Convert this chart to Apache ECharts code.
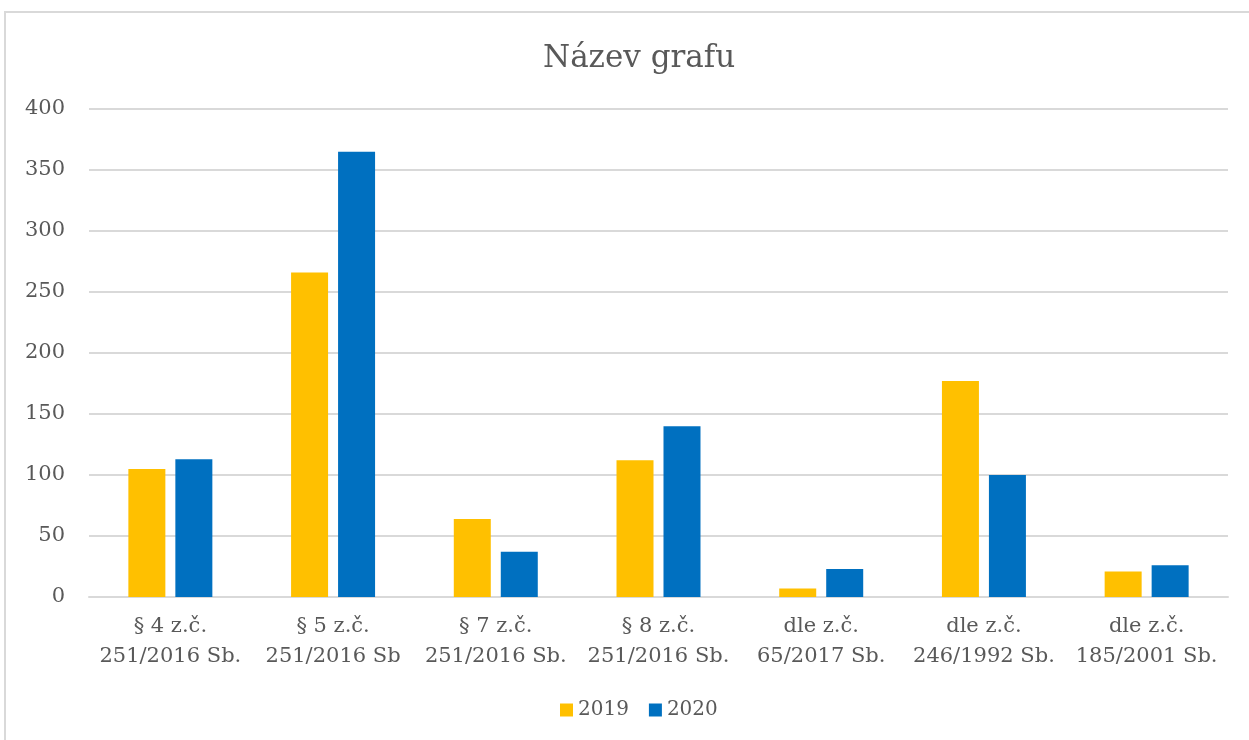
<!DOCTYPE html>
<html>
<head>
<meta charset="utf-8">
<script src="https://cdn.jsdelivr.net/npm/echarts@6/dist/echarts.min.js"></script>
<style>
  html, body { margin: 0; padding: 0; background: #fff; }
  .echarts_box {
    position: absolute;
    left: 4px;
    top: 11px;
    width: 1250px;
    height: 735px;
    border: 2px solid #d9d9d9;
    box-sizing: border-box;
  }
  #grafChart { position: absolute; left: 0; top: 0; width: 1249px; height: 740px; }
</style>
</head>
<body>
<div class="echarts_box"></div>
<div id="grafChart"></div>
<script>
// data
var categories = [
  '§ 4 z.č.\n251/2016 Sb.',
  '§ 5 z.č.\n251/2016 Sb',
  '§ 7 z.č.\n251/2016 Sb.',
  '§ 8 z.č.\n251/2016 Sb.',
  'dle z.č.\n65/2017 Sb.',
  'dle z.č.\n246/1992 Sb.',
  'dle z.č.\n185/2001 Sb.'
]
var seriesNames = ['2019', '2020']
var values2019 = [105, 266, 64, 112, 7, 177, 21]
var values2020 = [113, 365, 37, 140, 23, 100, 26]

var fontSerif = '"DejaVu Serif", "Liberation Serif", serif'
var textColor = '#595959'

var chartInstance = echarts.init(document.getElementById('grafChart'))
var option = {
  animation: false,
  title: {
    text: 'Název grafu',
    left: 538,
    top: 38,
    textStyle: {
      fontFamily: fontSerif,
      fontSize: 31,
      fontWeight: 'normal',
      color: textColor,
    },
  },
  legend: {
    bottom: 15,
    left: 555,
    itemWidth: 13,
    itemHeight: 13,
    itemGap: 20,
    icon: 'rect',
    textStyle: {
      fontFamily: fontSerif,
      fontSize: 20,
      color: textColor,
    },
    data: seriesNames,
  },
  grid: {
    left: 89,
    right: 21,
    top: 109,
    bottom: 143,
    containLabel: false,
  },
  xAxis: {
    type: 'category',
    data: categories,
    axisLine: { show: true, lineStyle: { color: '#d9d9d9', width: 2 } },
    axisTick: { show: false },
    axisLabel: {
      fontFamily: fontSerif,
      fontSize: 21,
      color: textColor,
      lineHeight: 30,
      margin: 15,
      interval: 0,
    },
  },
  yAxis: {
    type: 'value',
    min: 0,
    max: 400,
    interval: 50,
    axisLine: { show: false },
    axisTick: { show: false },
    splitLine: { lineStyle: { color: '#d9d9d9', width: 2 } },
    axisLabel: {
      fontFamily: fontSerif,
      fontSize: 21,
      color: textColor,
      margin: 24,
    },
  },
  series: [
    {
      name: seriesNames[0],
      type: 'bar',
      data: values2019,
      barWidth: 37,
      barGap: '27%',
      itemStyle: { color: '#ffc000' },
    },
    {
      name: seriesNames[1],
      type: 'bar',
      data: values2020,
      barWidth: 37,
      itemStyle: { color: '#0070c0' },
    },
  ],
}
chartInstance.setOption(option)
</script>
</body>
</html>
